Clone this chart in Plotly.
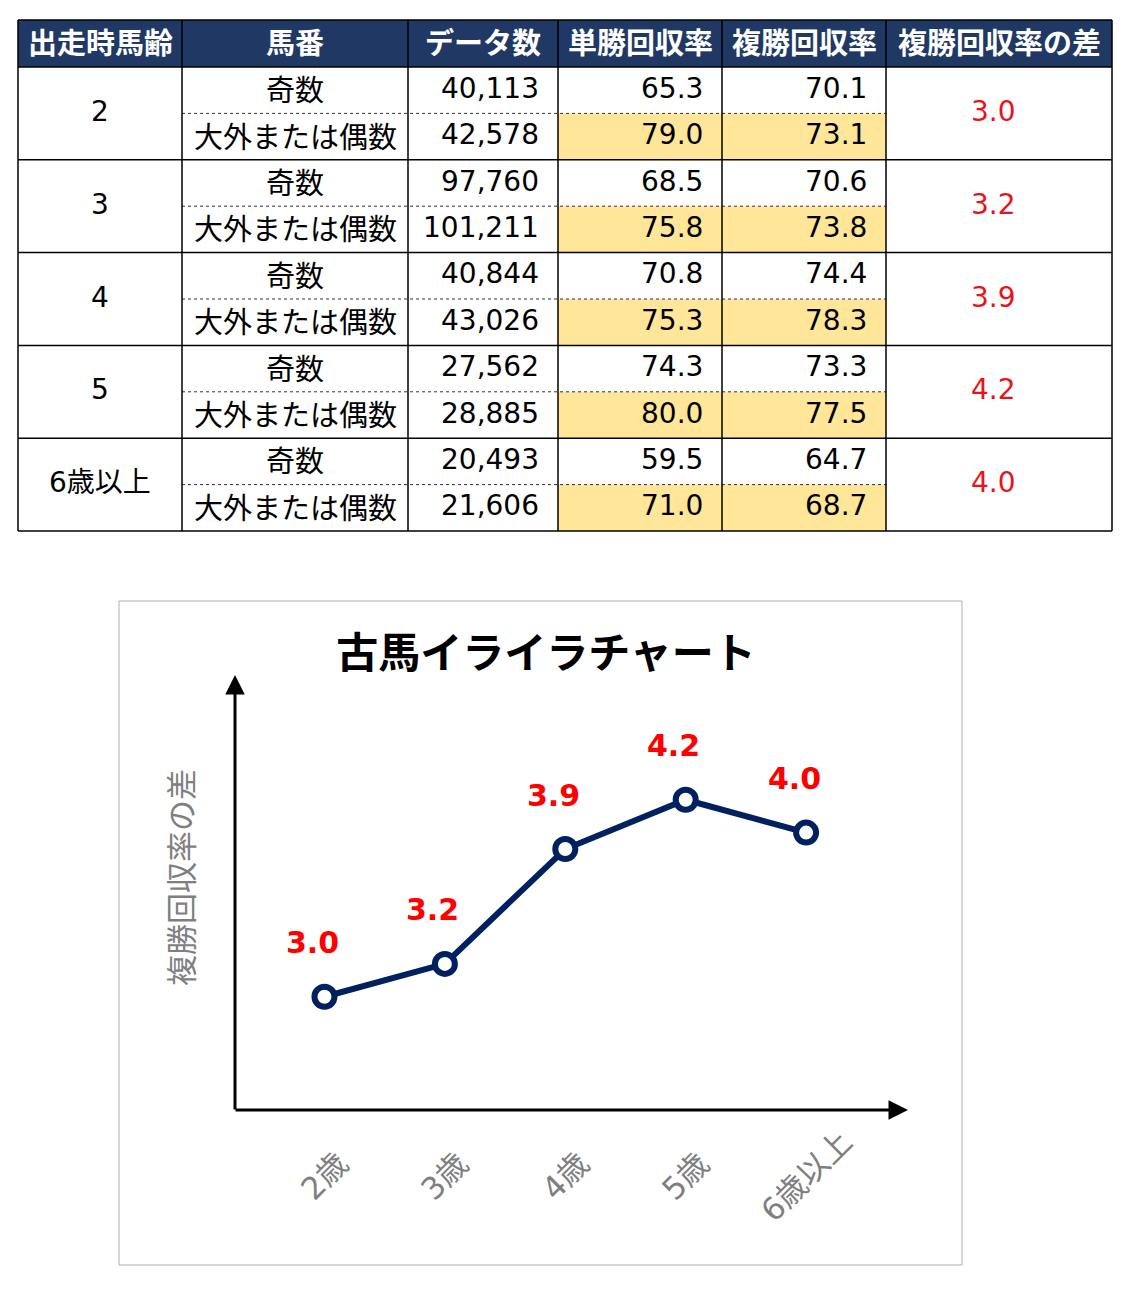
import plotly.graph_objects as go

# ---------------- data ----------------
headers = ["出走時馬齢", "馬番", "データ数", "単勝回収率", "複勝回収率", "複勝回収率の差"]
ages = ["2", "3", "4", "5", "6歳以上"]
gate_types = ["奇数", "大外または偶数"]
data_counts = [[40113, 42578], [97760, 101211], [40844, 43026], [27562, 28885], [20493, 21606]]
win_return = [[65.3, 79.0], [68.5, 75.8], [70.8, 75.3], [74.3, 80.0], [59.5, 71.0]]
place_return = [[70.1, 73.1], [70.6, 73.8], [74.4, 78.3], [73.3, 77.5], [64.7, 68.7]]
place_diff = [3.0, 3.2, 3.9, 4.2, 4.0]

chart_title = "古馬イライラチャート"
chart_categories = ["2歳", "3歳", "4歳", "5歳", "6歳以上"]
y_title = "複勝回収率の差"

# ---------------- geometry helpers ----------------
W, H = 1141, 1316
OFF = 8
FW, FH = W - 2 * OFF, H - 2 * OFF


def px(x):
    return (x - OFF) / FW


def py(y):
    return 1 - (y - OFF) / FH


CJK = "Noto Sans CJK JP"
MIX = "DejaVu Sans, Noto Sans CJK JP"
NAVY = "#1F3864"
YELLOW = "#FFE699"
LINE_BLUE = "#002060"
GRAY = "#7F7F7F"

col_x = [18, 182, 408, 558, 722, 886, 1112]
head_top, head_bot, tbl_bot = 20, 67, 531
row_h = (tbl_bot - head_bot) / 10.0

shapes = []
annotations = []

# header background
shapes.append(dict(type="rect", xref="paper", yref="paper",
                   x0=px(col_x[0]), x1=px(col_x[-1]), y0=py(head_bot), y1=py(head_top),
                   fillcolor=NAVY, line=dict(width=0), layer="below"))
# yellow highlight cells
for g in range(len(ages)):
    ytop = head_bot + row_h * (2 * g + 1)
    for c in (3, 4):
        shapes.append(dict(type="rect", xref="paper", yref="paper",
                           x0=px(col_x[c]), x1=px(col_x[c + 1]),
                           y0=py(ytop + row_h), y1=py(ytop),
                           fillcolor=YELLOW, line=dict(width=0), layer="below"))
# horizontal solid lines
for yv in [head_top, head_bot] + [head_bot + row_h * 2 * (g + 1) for g in range(len(ages))]:
    shapes.append(dict(type="line", xref="paper", yref="paper",
                       x0=px(col_x[0]), x1=px(col_x[-1]), y0=py(yv), y1=py(yv),
                       line=dict(color="black", width=1.5)))
# dotted lines
for g in range(len(ages)):
    yv = head_bot + row_h * (2 * g + 1)
    shapes.append(dict(type="line", xref="paper", yref="paper",
                       x0=px(col_x[1]), x1=px(col_x[5]), y0=py(yv), y1=py(yv),
                       line=dict(color="#333333", width=1, dash="dot")))
# vertical lines
for xv in col_x:
    shapes.append(dict(type="line", xref="paper", yref="paper",
                       x0=px(xv), x1=px(xv), y0=py(tbl_bot), y1=py(head_top),
                       line=dict(color="black", width=1.5)))

# header texts
for c, h in enumerate(headers):
    annotations.append(dict(xref="paper", yref="paper", x=px((col_x[c] + col_x[c + 1]) / 2),
                            y=py((head_top + head_bot) / 2 - 3), text=f"<b>{h}</b>", showarrow=False,
                            xanchor="center", yanchor="middle",
                            font=dict(family=CJK, size=29, color="white")))

# body texts
for g, age in enumerate(ages):
    gy = head_bot + row_h * (2 * g + 1) - 2
    annotations.append(dict(xref="paper", yref="paper", x=px(100), y=py(gy), text=age,
                            showarrow=False, xanchor="center", yanchor="middle",
                            font=dict(family=MIX, size=28, color="black")))
    annotations.append(dict(xref="paper", yref="paper", x=px(993), y=py(gy),
                            text=f"{place_diff[g]:.1f}", showarrow=False,
                            xanchor="center", yanchor="middle",
                            font=dict(family=MIX, size=28, color="#E8141B")))
    for r in range(2):
        ry = head_bot + row_h * (2 * g + r + 0.5) - 2
        annotations.append(dict(xref="paper", yref="paper", x=px(295), y=py(ry), text=gate_types[r],
                                showarrow=False, xanchor="center", yanchor="middle",
                                font=dict(family=CJK, size=29, color="black")))
        annotations.append(dict(xref="paper", yref="paper", x=px(541), y=py(ry),
                                text=f"{data_counts[g][r]:,}", showarrow=False,
                                xanchor="right", yanchor="middle",
                                font=dict(family=MIX, size=28, color="black")))
        annotations.append(dict(xref="paper", yref="paper", x=px(705), y=py(ry),
                                text=f"{win_return[g][r]:.1f}", showarrow=False,
                                xanchor="right", yanchor="middle",
                                font=dict(family=MIX, size=28, color="black")))
        annotations.append(dict(xref="paper", yref="paper", x=px(869), y=py(ry),
                                text=f"{place_return[g][r]:.1f}", showarrow=False,
                                xanchor="right", yanchor="middle",
                                font=dict(family=MIX, size=28, color="black")))

# chart frame
shapes.append(dict(type="rect", xref="paper", yref="paper",
                   x0=px(119), x1=px(962), y0=py(1265), y1=py(601),
                   line=dict(color="#B0B0B0", width=1), fillcolor="rgba(0,0,0,0)", layer="below"))

# axis arrows
annotations.append(dict(xref="paper", yref="paper", x=px(235), y=py(675), ax=0, ay=436,
                        axref="pixel", ayref="pixel", text="", showarrow=True,
                        arrowhead=2, arrowsize=1.3, arrowwidth=3, arrowcolor="black", standoff=0))
annotations.append(dict(xref="paper", yref="paper", x=px(908), y=py(1110), ax=-674, ay=0,
                        axref="pixel", ayref="pixel", text="", showarrow=True,
                        arrowhead=2, arrowsize=1.3, arrowwidth=3, arrowcolor="black", standoff=0))

# y-axis title
annotations.append(dict(xref="paper", yref="paper", x=px(180), y=py(878), text=y_title,
                        showarrow=False, textangle=-90, xanchor="center", yanchor="middle",
                        font=dict(family=CJK, size=31, color=GRAY)))

# category labels (rotated around their centre, below the axis)
for cat in chart_categories:
    annotations.append(dict(xref="x", yref="paper", x=cat, y=py(1176), text=cat,
                            showarrow=False, textangle=-45, xanchor="center", yanchor="middle",
                            font=dict(family=MIX, size=31, color=GRAY)))

# data labels
for cat, v in zip(chart_categories, place_diff):
    annotations.append(dict(xref="x", yref="y", x=cat, y=v, text=f"<b>{v:.1f}</b>",
                            showarrow=False, xanchor="center", yanchor="middle",
                            xshift=-12, yshift=54,
                            font=dict(family=MIX, size=30, color="#FF0000")))

fig = go.Figure()
fig.add_trace(go.Scatter(
    x=chart_categories, y=place_diff, mode="lines+markers",
    line=dict(color=LINE_BLUE, width=6),
    marker=dict(symbol="circle", size=20, color="white", line=dict(color=LINE_BLUE, width=6)),
    hoverinfo="skip", showlegend=False, cliponaxis=False,
))

fig.update_layout(
    width=FW, height=FH, autosize=False,
    margin=dict(l=0, r=0, t=0, b=0),
    paper_bgcolor="white", plot_bgcolor="rgba(0,0,0,0)",
    font=dict(family=CJK),
    title=dict(text=f"<b>{chart_title}</b>", x=px(546), y=py(653), xanchor="center", yanchor="middle",
               xref="paper", yref="paper",
               font=dict(family=CJK, size=42, color="black")),
    xaxis=dict(domain=[px(235), px(907)], type="category", range=[-0.743, 4.838],
               showline=False, showgrid=False, zeroline=False, ticks="", showticklabels=False),
    yaxis=dict(domain=[py(1110), py(675)], range=[2.31, 4.96],
               showline=False, showgrid=False, zeroline=False, showticklabels=False, ticks=""),
    shapes=shapes, annotations=annotations,
)

fig.write_html("out.html")
